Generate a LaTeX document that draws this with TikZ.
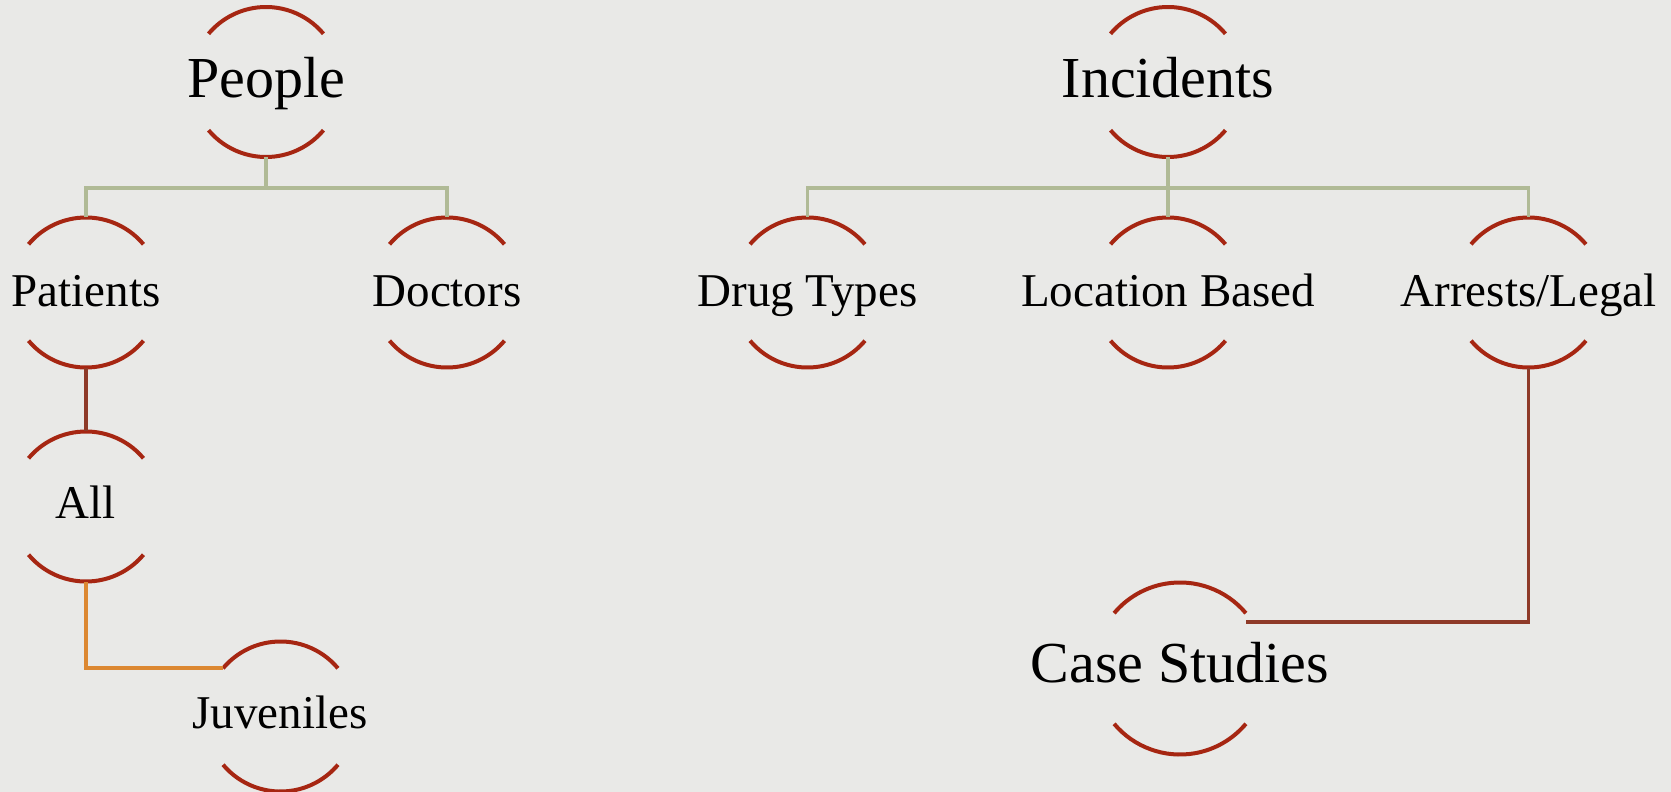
\documentclass[tikz,border=0pt]{standalone}
\usepackage{fontspec}
\setmainfont{Liberation Serif}
\usetikzlibrary{calc}
\definecolor{bg}{RGB}{233,233,231}
\definecolor{arcred}{RGB}{166,38,18}
\definecolor{busgreen}{RGB}{176,186,150}
\definecolor{linkbrown}{RGB}{142,58,40}
\definecolor{linkorange}{RGB}{220,136,50}
\tikzset{
  hub/.style={circle, minimum size=75pt, inner sep=0pt, draw=none},
  bighub/.style={circle, minimum size=86pt, inner sep=0pt, draw=none},
  bigtext/.style={anchor=base, inner sep=0pt, font=\fontsize{29}{33}\selectfont},
  smalltext/.style={anchor=base, inner sep=0pt, font=\fontsize{23.5}{27}\selectfont},
  arcline/.style={draw=arcred, line width=2pt},
  bus/.style={draw=busgreen, line width=1.8pt},
  brownlink/.style={draw=linkbrown, line width=1.8pt},
  orangelink/.style={draw=linkorange, line width=1.8pt},
}
\newcommand\arcsof[2][75]{%
  \draw[arcline] ([shift={({0.766*#1},{-0.643*#1})}]#2.center) arc[start angle=40,end angle=140,radius=#1*0.5pt];
  \draw[arcline] ([shift={({-0.766*#1},{0.643*#1})}]#2.center) arc[start angle=220,end angle=320,radius=#1*0.5pt];
}
\begin{document}
\begin{tikzpicture}[x=0.5pt,y=-0.5pt]
\fill[bg] (0,0) rectangle (1671,792);
\useasboundingbox (0,0) rectangle (1671,792);
% hubs (circle centres)
\node[hub] (people) at (266,82) {};
\node[hub] (patients) at (86,292.5) {};
\node[hub] (doctors) at (447,292.5) {};
\node[hub] (all) at (86,506.5) {};
\node[hub] (juveniles) at (280.5,716.5) {};
\node[hub] (incidents) at (1168,82) {};
\node[hub] (drug) at (807.5,292.5) {};
\node[hub] (location) at (1168,292.5) {};
\node[hub] (arrests) at (1528.5,292.5) {};
\node[bighub] (cases) at (1180,668.5) {};
% labels
\node[bigtext] (people-t) at (266,98) {People};
\node[bigtext] (incidents-t) at (1168,98) {Incidents};
\node[smalltext] (patients-t) at (86,306) {Patients};
\node[smalltext] (doctors-t) at (447,306) {Doctors};
\node[smalltext] (all-t) at (86,518) {All};
\node[smalltext] (juveniles-t) at (280,728) {Juveniles};
\node[smalltext] (drug-t) at (807.5,306) {Drug Types};
\node[smalltext] (location-t) at (1168,306) {Location Based};
\node[smalltext] (arrests-t) at (1528.5,306) {Arrests/Legal};
\node[bigtext] (cases-t) at (1180,682) {Case Studies};
% arcs
\arcsof{people}
\arcsof{patients}
\arcsof{doctors}
\arcsof{all}
\arcsof{juveniles}
\arcsof{incidents}
\arcsof{drug}
\arcsof{location}
\arcsof{arrests}
\arcsof[86]{cases}
% connectors
\coordinate (peoplebus) at (266,188);
\coordinate (incbus) at (1168,188);
\draw[bus] (people.south) -- (peoplebus);
\draw[bus] (patients.north) |- (peoplebus) -| (doctors.north);
\draw[bus] (incidents.south) -- (location.north);
\draw[bus] (drug.north) |- (incbus) -| (arrests.north);
\draw[brownlink] (patients.south) -- (all.north);
\draw[orangelink] (all.south) |- (juveniles.140);
\coordinate (casesend) at ([shift={(66,-46.5)}]cases.center);
\draw[brownlink] (arrests.south) |- (casesend);
\end{tikzpicture}
\end{document}
